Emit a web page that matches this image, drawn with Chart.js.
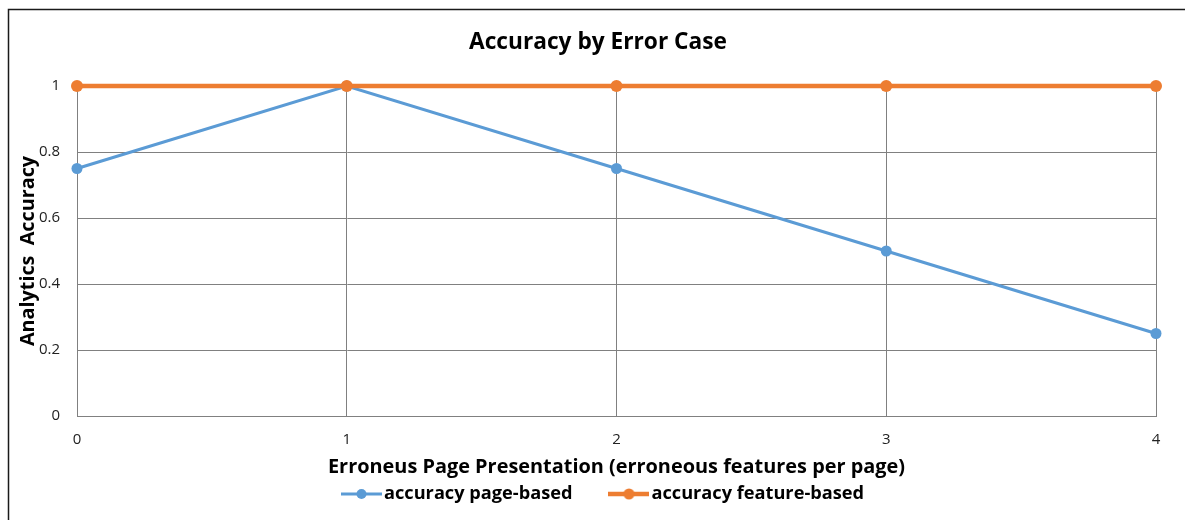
<!DOCTYPE html>
<html>
<head>
<meta charset="utf-8">
<style>
  html, body { margin: 0; padding: 0; background: #ffffff; }
  #wrap { width: 1185px; height: 520px; }
</style>
<script src="https://cdn.jsdelivr.net/npm/chart.js@4.4.1/dist/chart.umd.min.js"></script>
</head>
<body>
<div id="wrap"><canvas id="c" width="1185" height="520"></canvas></div>
<script>
const categories = ['0', '1', '2', '3', '4'];
const pageBased = [0.75, 1, 0.75, 0.5, 0.25];
const featureBased = [1, 1, 1, 1, 1];
const yTickLabels = ['0', '0.2', '0.4', '0.6', '0.8', '1'];
const seriesNames = ['accuracy page-based', 'accuracy feature-based'];
const chartTitle = 'Accuracy by Error Case';
const xTitle = 'Erroneus Page Presentation (erroneous features per page)';
const yTitle = 'Analytics  Accuracy';

const BLUE = '#5B9BD5';
const ORANGE = '#ED7D31';
const GRID = '#808080';
const FONT = '"Open Sans", "Noto Sans", sans-serif';

// pick a font size so a text gets a given rendered width
function fitSize(text, weight, target) {
  const m = document.createElement('canvas').getContext('2d');
  m.font = weight + ' 100px ' + FONT;
  return Math.round(100 * target / m.measureText(text).width * 10) / 10;
}
const titleSize = fitSize(chartTitle, 'bold', 258);
const xTitleSize = fitSize(xTitle, 'bold', 576);
const yTitleSize = fitSize(yTitle, 'bold', 190);
const legendSize = fitSize(seriesNames[0], 'bold', 189);

const MARK_W = 41;
function legendMarker(color, lw, r) {
  const cv = document.createElement('canvas');
  cv.width = MARK_W; cv.height = 14;
  const x = cv.getContext('2d');
  x.strokeStyle = color; x.lineWidth = lw;
  x.beginPath(); x.moveTo(0, 7); x.lineTo(MARK_W, 7); x.stroke();
  x.fillStyle = color;
  x.beginPath(); x.arc(MARK_W / 2, 7, r, 0, Math.PI * 2); x.fill();
  return cv;
}
const markers = [legendMarker(BLUE, 3, 5), legendMarker(ORANGE, 4.5, 5.5)];

// legend geometry (matches the original's marker/text spacing)
const boxW = MARK_W + 4 - legendSize;                // pointStyleWidth
const itemPad = 36 + MARK_W / 2 - boxW / 2;          // gap between items
const legendStartX = 340 + MARK_W / 2 - boxW / 2;    // first item x
const legendShift = (legendStartX + 865) / 2 - 578; // move from box centre
const legendTextY = 494;
const legendTop = legendTextY - itemPad - legendSize / 2;
const legendH = legendSize + itemPad + 10;
const xScaleH = 46;
const bottomPad = 520 - 416 - xScaleH - legendH;

const frame = {
  id: 'frame',
  afterLayout(chart) {
    const lg = chart.legend;
    if (lg) {
      lg.left += legendShift; lg.right += legendShift;
      lg.top = legendTop; lg.bottom = legendTop + lg.height;
    }
    if (chart.titleBlock) { chart.titleBlock.left += 20; chart.titleBlock.right += 20; }
  },
  beforeDraw(chart) {
    const ctx = chart.ctx;
    ctx.save();
    ctx.fillStyle = '#ffffff';
    ctx.fillRect(0, 0, chart.width, chart.height);
    ctx.restore();
  },
  afterDraw(chart) {
    const ctx = chart.ctx;
    ctx.save();
    ctx.strokeStyle = '#1a1a1a';
    ctx.lineWidth = 1.5;
    ctx.beginPath();
    ctx.moveTo(8.5, 520);
    ctx.lineTo(8.5, 9.5);
    ctx.lineTo(1185, 9.5);
    ctx.stroke();
    ctx.restore();
  }
};

new Chart(document.getElementById('c'), {
  type: 'line',
  data: {
    labels: categories,
    datasets: [
      {
        label: seriesNames[0],
        data: pageBased,
        borderColor: BLUE,
        backgroundColor: BLUE,
        borderWidth: 3,
        pointRadius: 5.5,
        pointHoverRadius: 5.5,
        pointBorderWidth: 0,
        pointBackgroundColor: BLUE,
        tension: 0,
        clip: false,
        order: 1
      },
      {
        label: seriesNames[1],
        data: featureBased,
        borderColor: ORANGE,
        backgroundColor: ORANGE,
        borderWidth: 4.5,
        pointRadius: 6,
        pointHoverRadius: 6,
        pointBorderWidth: 0,
        pointBackgroundColor: ORANGE,
        tension: 0,
        clip: false,
        order: 0
      }
    ]
  },
  options: {
    responsive: false,
    animation: false,
    events: [],
    layout: { padding: { left: 0, right: 29, top: 0, bottom: bottomPad } },
    scales: {
      x: {
        type: 'category',
        offset: false,
        grid: { color: GRID, lineWidth: 1, drawTicks: false },
        border: { color: GRID, width: 1 },
        ticks: { color: '#222', font: { family: FONT, size: 15 }, padding: 15, maxRotation: 0 },
        title: {
          display: true,
          text: xTitle,
          color: '#000',
          font: { family: FONT, size: xTitleSize, weight: 'bold' },
          padding: { top: 0, bottom: 416 + xScaleH - xTitleSize * 0.6 - 467 }
        },
        afterFit(scale) { scale.height = xScaleH; }
      },
      y: {
        min: 0, max: 1,
        grid: { color: GRID, lineWidth: 1, drawTicks: false },
        border: { color: GRID, width: 1 },
        ticks: {
          stepSize: 0.2,
          color: '#222',
          font: { family: FONT, size: 15 },
          padding: 17,
          callback: (v, i) => yTickLabels[i]
        },
        title: {
          display: true,
          text: yTitle,
          color: '#000',
          font: { family: FONT, size: yTitleSize, weight: 'bold' },
          padding: { top: 28 - yTitleSize * 0.6, bottom: 0 }
        },
        afterFit(scale) { scale.width = 77; }
      }
    },
    plugins: {
      tooltip: { enabled: false },
      title: {
        display: true,
        text: chartTitle,
        color: '#000',
        font: { family: FONT, size: titleSize, weight: 'bold' },
        padding: { top: 43 - titleSize * 0.6, bottom: 86 - 43 - titleSize * 0.6 }
      },
      legend: {
        position: 'bottom',
        labels: {
          color: '#000',
          font: { family: FONT, size: legendSize, weight: 'bold' },
          usePointStyle: true,
          pointStyleWidth: boxW,
          padding: itemPad,
          generateLabels(chart) {
            return chart.data.datasets.map((ds, i) => ({
              text: ds.label,
              pointStyle: markers[i],
              fillStyle: ds.borderColor,
              strokeStyle: ds.borderColor,
              lineWidth: 0,
              fontColor: '#000',
              hidden: false,
              datasetIndex: i
            }));
          }
        }
      }
    }
  },
  plugins: [frame]
});
</script>
</body>
</html>
